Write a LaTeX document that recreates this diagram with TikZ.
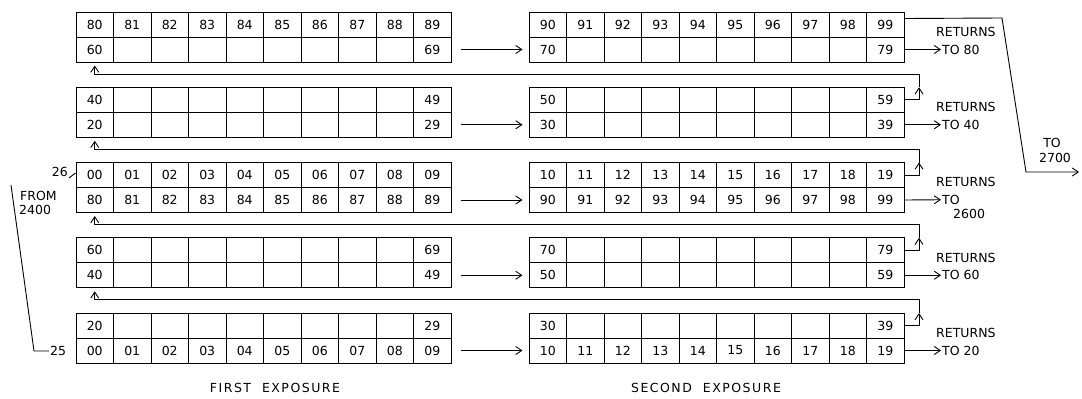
\documentclass[tikz,border=0pt]{standalone}
\usepackage{fontspec}
\setmainfont{DejaVu Sans}
\newfontfamily\exposurefont[LetterSpace=12]{DejaVu Sans}
\usetikzlibrary{arrows.meta,positioning}

% ten cells in a row; #5=1 numbers every cell, otherwise only both ends
\newcommand\cellrow[5]{%
  \foreach \c in {0,...,9}{%
    \pgfmathtruncatemacro\shown{(#5==1)||(\c==0)||(\c==9)}%
    \ifnum\shown=1 \node[cell] (#1\c) at ({#2+37.5*\c},{#3}) {#4\c};%
    \else \node[cell] (#1\c) at ({#2+37.5*\c},{#3}) {};\fi
  }}

\begin{document}
\begin{tikzpicture}[x=1pt,y=-1pt,
    cell/.style={draw,line width=1pt,minimum width=37.5pt,minimum height=25pt,inner sep=0pt,font=\fontsize{12.5}{13}\selectfont},
    lbl/.style={inner sep=1pt,font=\fontsize{12.5}{13}\selectfont},
    arrow/.style={-{Straight Barb[length=6pt,width=8pt]},line width=0.9pt}]
  \useasboundingbox (0,0) rectangle (1082,399);

  % five double rows: left = first exposure, right = second exposure
  \foreach \k/\lt/\lf/\lb/\lg/\rt/\rf/\rb/\rg in
      {1/8/1/6/0/9/1/7/0, 2/4/0/2/0/5/0/3/0, 3/0/1/8/1/1/1/9/1,
       4/6/0/4/0/7/0/5/0, 5/2/0/0/1/3/0/1/1}{
    \pgfmathsetmacro\ty{12+75.25*(\k-1)}
    \cellrow{L\k t}{94.75}{\ty+12.5}{\lt}{\lf}
    \cellrow{L\k b}{94.75}{\ty+37.5}{\lb}{\lg}
    \cellrow{R\k t}{547.75}{\ty+12.5}{\rt}{\rf}
    \cellrow{R\k b}{547.75}{\ty+37.5}{\rb}{\rg}
    \draw[arrow] ([xshift=9pt]L\k b9.east) -- ([xshift=-6pt]R\k b0.west);
  }

  % returns from the right end back to the row above
  \foreach \k in {2,...,5}{
    \pgfmathtruncatemacro\j{\k-1}
    \pgfmathsetmacro\ty{12+75.25*(\k-1)}
    \coordinate (up\k) at (919,\ty);
    \coordinate (ret\k) at (919,{\ty-13.25});
    \draw[arrow] (R\k t9.east) -| (up\k);
    \draw[arrow,shorten >=3pt] (up\k) -- (ret\k) -| (L\j b0.south);
  }

  \foreach \k/\dest in {1/80,2/40,4/60,5/20}{
    \pgfmathsetmacro\ty{12+75.25*(\k-1)}
    \node[lbl,anchor=west] (to\k) at (941,{\ty+37.5}) {TO \dest};
    \node[lbl,anchor=west] (rt\k) at (935,{\ty+20}) {RETURNS};
    \draw[arrow] (R\k b9.east) -- (to\k.west);
  }
  \node[lbl,anchor=west] (to3) at (941,199.75) {TO};
  \node[lbl,anchor=west] (yr3) at (952,214) {2600};
  \node[lbl,anchor=west] (rt3) at (935,182) {RETURNS};
  \draw[arrow] (R3b9.east) -- (to3.west);

  % out to 2700
  \coordinate (kneeA) at (1002,18);
  \coordinate (kneeB) at (1026,172);
  \coordinate (endB) at (1079,172);
  \node[lbl] (nto) at (1052,143) {TO};
  \node[lbl] (n2700) at (1055,158) {2700};
  \draw[arrow] ([yshift=6pt]R1t9.east) -- (kneeA) -- (kneeB) -- (endB);

  % in from 2400
  \coordinate (fromtop) at (11,185);
  \coordinate (fromknee) at (34,351);
  \node[lbl,anchor=west] (from) at (19,196) {FROM};
  \node[lbl,anchor=west] (n2400) at (18,210) {2400};
  \node[lbl,anchor=west] (n25) at (49,351) {25};
  \draw[line width=0.9pt] (fromtop) -- (fromknee) -- (n25.west);
  \node[lbl,anchor=east] (n26) at (69,172) {26};
  \draw[line width=0.9pt] (n26.south east) -- ([yshift=2pt]L3t0.west);

  \node[font=\exposurefont\fontsize{12.5}{14}\selectfont] (first) at (275,388) {FIRST\ \ EXPOSURE};
  \node[font=\exposurefont\fontsize{12.5}{14}\selectfont] (second) at (706,388) {SECOND\ \ EXPOSURE};
\end{tikzpicture}
\end{document}
